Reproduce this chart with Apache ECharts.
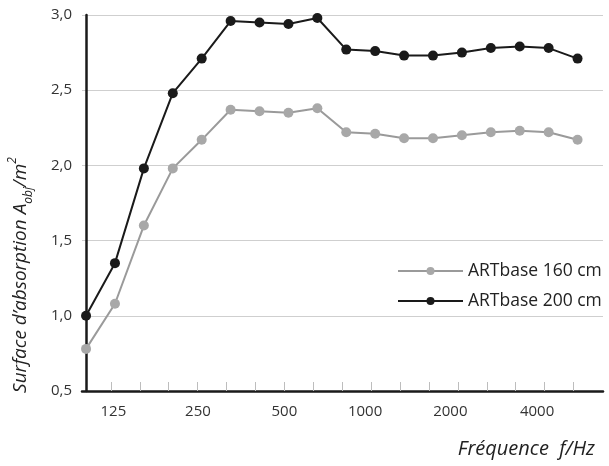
<!DOCTYPE html>
<html>
<head>
<meta charset="utf-8">
<script src="https://cdn.jsdelivr.net/npm/echarts@6/dist/echarts.min.js"></script>
<style>
html,body{margin:0;padding:0;background:#fff;}
#chart{width:609px;height:466px;}
</style>
</head>
<body>
<div id="chart"></div>
<script>
// Third-octave band centre frequencies (Hz)
const frequencies = [100,125,160,200,250,315,400,500,630,800,1000,1250,1600,2000,2500,3150,4000,5000];
const art160 = [0.78,1.08,1.60,1.98,2.17,2.37,2.36,2.35,2.38,2.22,2.21,2.18,2.18,2.20,2.22,2.23,2.22,2.17];
const art200 = [1.00,1.35,1.98,2.48,2.71,2.96,2.95,2.94,2.98,2.77,2.76,2.73,2.73,2.75,2.78,2.79,2.78,2.71];
const tickLabels = ['125','250','500','1000','2000','4000'];
const seriesNames = ['ARTbase 160 cm','ARTbase 200 cm'];

const FONT = 'Open Sans';
const xOffset = -0.14; // axis starts slightly before the first band
const tickValues = frequencies.slice(1).map((f, i) => i + 1 + xOffset);
const labelPos = [0.944, 3.87, 6.86, 9.65, 12.6, 15.6];

const chart = echarts.init(document.getElementById('chart'), null, {renderer: 'canvas'});
chart.setOption({
  animation: false,
  backgroundColor: '#fff',
  grid: {left: 82, top: 15, right: 6, bottom: 75},
  xAxis: {
    type: 'value',
    min: xOffset,
    max: 17.88,
    splitLine: {show: false},
    axisLine: {show: true, onZero: false, lineStyle: {color: '#1a1a1a', width: 2.5}},
    axisTick: {show: true, inside: true, length: 9, customValues: tickValues, lineStyle: {color: '#bdbdbd', width: 1}},
    axisLabel: {
      show: true,
      customValues: labelPos,
      margin: 13,
      fontFamily: FONT, fontSize: 15, color: '#333',
      formatter: function (v) {
        let best = 0, d = 1e9;
        labelPos.forEach((p, i) => { if (Math.abs(p - v) < d) { d = Math.abs(p - v); best = i; } });
        return tickLabels[best];
      }
    }
  },
  yAxis: {
    type: 'value',
    min: 0.5, max: 3.0, interval: 0.5,
    axisLine: {show: true, lineStyle: {color: '#1a1a1a', width: 2.5}},
    axisTick: {show: false},
    splitLine: {show: true, lineStyle: {color: '#cfcfcf', width: 1.2}},
    axisLabel: {
      margin: 10, fontFamily: FONT, fontSize: 15, color: '#333',
      formatter: v => v.toFixed(1).replace('.', ',')
    }
  },
  legend: {
    orient: 'vertical',
    left: 392, top: 257,
    itemWidth: 65, itemHeight: 10, itemGap: 12,
    textStyle: {fontFamily: FONT, fontSize: 17.5, color: '#222'},
    data: seriesNames
  },
  graphic: [
    {
      type: 'text',
      x: 21, y: 275,
      rotation: Math.PI / 2,
      style: {
        text: '{a|Surface d’absorption A}{s|obj}{a|/m}{p|2}',
        align: 'center', verticalAlign: 'middle',
        fill: '#222',
        rich: {
          a: {fontFamily: FONT, fontStyle: 'italic', fontSize: 19, fill: '#222', lineHeight: 28, verticalAlign: 'middle'},
          s: {fontFamily: FONT, fontStyle: 'italic', fontSize: 12, fill: '#222', lineHeight: 28, padding: [11, 0, 0, 0], verticalAlign: 'bottom'},
          p: {fontFamily: FONT, fontStyle: 'italic', fontSize: 12, fill: '#222', lineHeight: 28, padding: [0, 0, 11, 0], verticalAlign: 'top'}
        }
      }
    },
    {
      type: 'text',
      right: 14, top: 439,
      style: {text: 'Fréquence  f/Hz', fontFamily: FONT, fontStyle: 'italic', fontSize: 20, fill: '#222'}
    }
  ],
  series: [
    {
      name: seriesNames[0], type: 'line',
      data: art160.map((v, i) => [i, v]),
      symbol: 'circle', symbolSize: 10,
      lineStyle: {color: '#9a9a9a', width: 2},
      itemStyle: {color: '#a8a8a8'},
      z: 2
    },
    {
      name: seriesNames[1], type: 'line',
      data: art200.map((v, i) => [i, v]),
      symbol: 'circle', symbolSize: 10,
      lineStyle: {color: '#1a1a1a', width: 2},
      itemStyle: {color: '#1a1a1a'},
      z: 3
    }
  ]
});
</script>
</body>
</html>
